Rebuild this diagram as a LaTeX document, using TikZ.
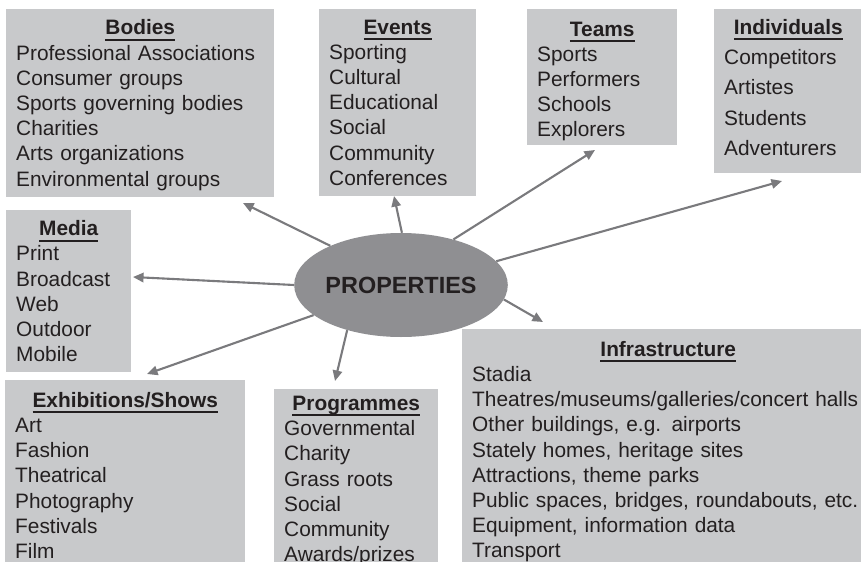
\documentclass[tikz,border=0pt]{standalone}
\usepackage{fontspec}
\setmainfont{Liberation Sans}
\usetikzlibrary{positioning, arrows.meta, shapes.geometric}
\definecolor{panelgray}{RGB}{200, 201, 203}
\definecolor{hubgray}{RGB}{143, 143, 146}
\definecolor{linkgray}{RGB}{122, 122, 125}
\definecolor{inkblack}{RGB}{35, 31, 32}
\setlength{\parindent}{0pt}
% bold heading with a thick rule under it
\newcommand{\ulhead}[1]{\setbox0\hbox{\bfseries #1}\leavevmode\rlap{\rule[-5pt]{\wd0}{1.7pt}}\box0}

\begin{document}
\begin{tikzpicture}[
    x=0.03cm, y=-0.03cm, % one unit = one pixel of the sketch
    panel/.style={ % grey list box, takes text width as argument
        rectangle,
        fill=panelgray,
        draw=none,
        anchor=north west,
        align=left,
        inner xsep=0.3cm,
        inner ysep=0.1cm,
        text=inkblack,
        font=\fontsize{17.8}{21.5}\selectfont,
        text width=#1
    },
    % central ellipse
    hub/.style={
        ellipse,
        fill=hubgray,
        draw=none,
        minimum width=6.24cm,
        minimum height=3.12cm,
        inner sep=0pt,
        text=inkblack,
        font=\fontsize{20}{24}\selectfont\bfseries
    },
    % spoke arrow
    link/.style={
        -{Triangle[length=9pt, width=8pt]},
        line width=1.8pt,
        draw=linkgray
    }
]

\clip (0,0) rectangle (861,562);

% Top row of boxes
\node[panel=7.44cm, minimum height=5.64cm] (bodies) at (6,9) {{\centering\rule{0pt}{16pt}\ulhead{Bodies}\par}Professional Associations\\Consumer groups\\Sports governing bodies\\Charities\\Arts organizations\\Environmental groups};
\node[panel=4.11cm, minimum height=5.61cm] (events) at (319,9) {{\centering\ulhead{Events}\par}Sporting\\Cultural\\Educational\\Social\\Community\\Conferences};
\node[panel=3.9cm, minimum height=4.08cm] (teams) at (527,9) {{\centering\rule{0pt}{19.5pt}\ulhead{Teams}\par}Sports\\Performers\\Schools\\Explorers};
\node[panel=3.84cm, minimum height=4.92cm, font=\fontsize{17.8}{25.9}\selectfont] (individuals) at (714,9) {{\centering\ulhead{Individuals}\par}Competitors\\Artistes\\Students\\Adventurers\par\vspace*{0.24cm}};

% Left box
\node[panel=3.15cm, minimum height=4.86cm] (media) at (6,210) {{\centering\ulhead{Media}\par}Print\\Broadcast\\Web\\Outdoor\\Mobile};

% Bottom row of boxes (run off the lower edge)
\node[panel=6.6cm, inner ysep=0.36cm] (shows) at (5,380) {{\centering\ulhead{Exhibitions/Shows}\par}Art\\Fashion\\Theatrical\\Photography\\Festivals\\Film};
\node[panel=4.32cm, inner ysep=0.21cm] (programmes) at (274,389) {{\centering\ulhead{Programmes}\par}Governmental\\Charity\\Grass roots\\Social\\Community\\Awards/prizes};
\node[panel=11.76cm, inner ysep=0.36cm] (infra) at (462,329) {{\centering\ulhead{Infrastructure}\par}Stadia\\Theatres/museums/galleries/concert halls\\Other buildings, e.g. airports\\Stately homes, heritage sites\\Attractions, theme parks\\Public spaces, bridges, roundabouts, etc.\\Equipment, information data\\Transport};

% Centre
\node[hub] (props) at (401,285) {PROPERTIES};

% Arrow ends
\coordinate (bodiesTip) at (243,203);
\coordinate (eventsTip) at (394,196);
\coordinate (teamsTip) at (595,150);
\coordinate (indivTip) at (782,181);
\coordinate (infraTip) at (543,322);
\coordinate (mediaTip) at (133,277);
\coordinate (showsTip) at (147,374);
\coordinate (progTip) at (335,381);

% Spokes
\draw[link] (props.151) -- (bodiesTip);
\draw[link] (props.89) -- (eventsTip);
\draw[link] (props.41) -- (teamsTip);
\draw[link] (props.14) -- (indivTip);
\draw[link] (props.-8) -- (infraTip);
\draw[link] (props.180) -- (mediaTip);
\draw[link] (props.199) -- (showsTip);
\draw[link] (props.220) -- (progTip);

\end{tikzpicture}
\end{document}
